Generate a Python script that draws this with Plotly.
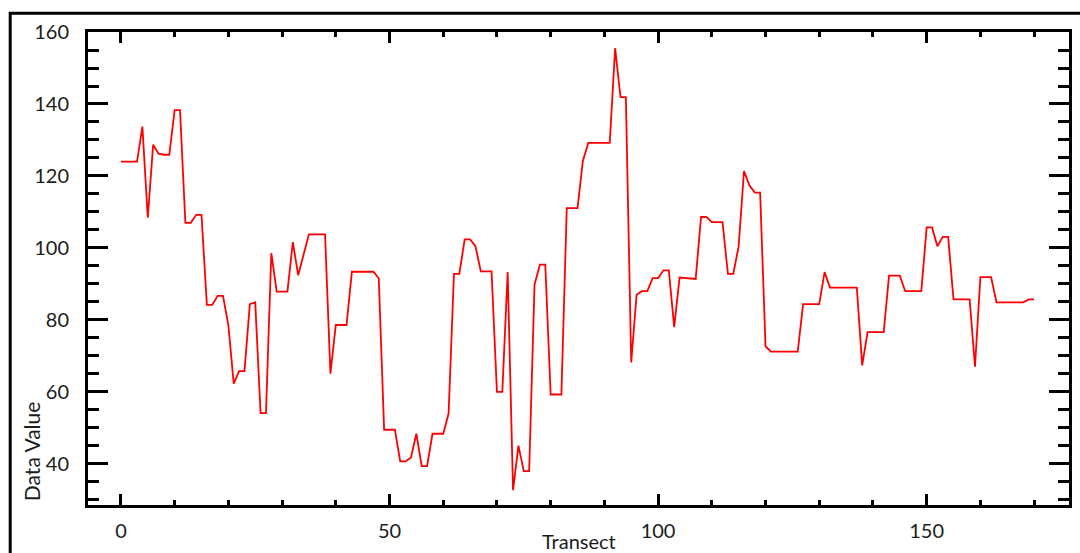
import plotly.graph_objects as go

# Transect sample positions and the measured value at each one
transect = list(range(0, 171))
data_value = [
    124.0, 124.0, 124.0, 124.0, 133.7, 108.4, 128.7, 126.2, 125.9, 125.9,   # 0-9
    138.3, 138.3, 107.0, 107.0, 109.2, 109.2, 84.2, 84.2, 86.7, 86.7,       # 10-19
    78.6, 62.3, 65.8, 65.8, 84.4, 84.9, 54.1, 54.1, 98.6, 87.9,             # 20-29
    87.9, 87.9, 101.6, 92.4, 98.1, 103.8, 103.8, 103.8, 103.8, 65.1,        # 30-39
    78.6, 78.6, 78.6, 93.4, 93.4, 93.4, 93.4, 93.4, 91.6, 49.5,             # 40-49
    49.5, 49.5, 40.7, 40.7, 41.8, 48.4, 39.4, 39.4, 48.4, 48.4,             # 50-59
    48.4, 54.0, 92.8, 92.8, 102.4, 102.4, 100.5, 93.5, 93.5, 93.5,          # 60-69
    60.0, 60.0, 93.3, 32.7, 45.1, 38.0, 38.0, 89.8, 95.4, 95.4,             # 70-79
    59.3, 59.3, 59.3, 111.1, 111.1, 111.1, 124.2, 129.2, 129.2, 129.2,      # 80-89
    129.2, 129.2, 155.5, 141.9, 141.9, 68.2, 87.0, 88.0, 88.0, 91.6,        # 90-99
    91.6, 93.8, 93.8, 78.0, 91.8, 91.6, 91.4, 91.4, 108.6, 108.6,           # 100-109
    107.2, 107.2, 107.2, 92.8, 92.8, 100.5, 121.4, 117.4, 115.4, 115.4,     # 110-119
    72.7, 71.2, 71.2, 71.2, 71.2, 71.2, 71.2, 84.4, 84.4, 84.4,             # 120-129
    84.4, 93.3, 89.0, 89.0, 89.0, 89.0, 89.0, 89.0, 67.4, 76.6,             # 130-139
    76.6, 76.6, 76.6, 92.3, 92.3, 92.3, 88.0, 88.0, 88.0, 88.0,             # 140-149
    105.7, 105.7, 100.5, 103.1, 103.1, 85.7, 85.7, 85.7, 85.7, 67.0,        # 150-159
    91.9, 91.9, 91.9, 84.9, 84.9, 84.9, 84.9, 84.9, 84.9, 85.7,             # 160-169
    85.7,                                                                   # 170
]

x_tick_values = [0, 50, 100, 150]
y_tick_values = [40, 60, 80, 100, 120, 140, 160]

FONT = "Lato"
TEXT = "#1c1c1c"

fig = go.Figure()
fig.add_trace(go.Scatter(
    x=transect, y=data_value, mode="lines",
    line=dict(color="#ff0000", width=1.8),
    hoverinfo="x+y", showlegend=False,
))

axis_common = dict(
    showgrid=False, zeroline=False,
    showline=True, linecolor="black", linewidth=3,
    mirror="ticks", ticks="inside", tickcolor="black",
    tickfont=dict(family=FONT, size=20, color=TEXT),
)

fig.update_xaxes(
    range=[-6.13, 176.5], tickvals=x_tick_values,
    ticklen=11, tickwidth=2.5, ticklabelstandoff=6,
    minor=dict(dtick=10, tick0=0, ticks="inside", ticklen=5, tickwidth=2.5, tickcolor="black"),
    **axis_common,
)
fig.update_yaxes(
    range=[28.6, 160], tickvals=y_tick_values,
    ticklen=20, tickwidth=2.7, ticklabelstandoff=12,
    minor=dict(dtick=5, tick0=0, ticks="inside", ticklen=11, tickwidth=2.7, tickcolor="black"),
    **axis_common,
)

# Axis titles
fig.add_annotation(
    text="Transect", xref="paper", yref="paper", x=0.5, y=-0.076,
    xanchor="center", yanchor="middle", showarrow=False,
    font=dict(family=FONT, size=20, color=TEXT),
)
fig.add_annotation(
    text="Data Value", xref="paper", yref="paper", x=-0.058, y=0.112,
    xanchor="center", yanchor="middle", textangle=-90, showarrow=False,
    font=dict(family=FONT, size=21, color=TEXT),
)

# Outer frame around the whole graphic
fig.add_shape(
    type="rect", xref="paper", yref="paper",
    x0=-0.0793, x1=1.03, y0=-0.2, y1=1.0395,
    line=dict(color="black", width=3), fillcolor="rgba(0,0,0,0)", layer="above",
)

fig.update_layout(
    width=1080, height=553,
    margin=dict(l=88, r=8, t=31.7, b=48, pad=0),
    paper_bgcolor="white", plot_bgcolor="white",
)

fig.write_html("out.html")
